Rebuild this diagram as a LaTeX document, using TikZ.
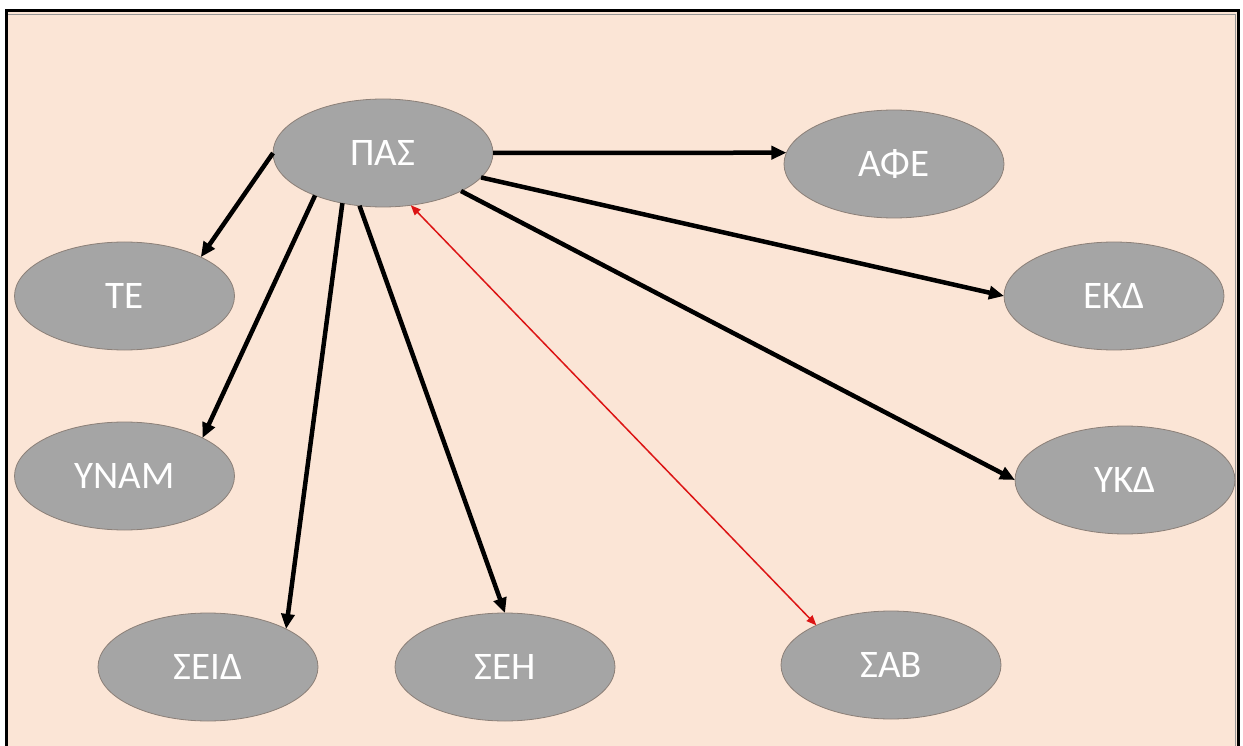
\documentclass[tikz,border=0pt]{standalone}
\usepackage{fontspec}
\setmainfont{Carlito}
\usetikzlibrary{arrows.meta,shapes.geometric}
\definecolor{peach}{HTML}{FBE5D6}
\definecolor{ellfill}{HTML}{A5A5A5}
\definecolor{elldraw}{RGB}{140,128,120}
\definecolor{framegray}{RGB}{150,150,150}
\definecolor{linkred}{RGB}{220,20,20}
\tikzset{
  oval/.style={ellipse, fill=ellfill, draw=elldraw, line width=0.8pt,
    minimum width=220pt, minimum height=108pt, inner sep=0pt, outer sep=0pt,
    text=white, font=\fontsize{39}{45}\selectfont},
  link/.style={line width=4.5pt, -{Triangle[length=15pt,width=13pt]}},
  redlink/.style={line width=1.5pt, draw=linkred,
    {Triangle[length=10pt,width=8pt]}-{Triangle[length=10pt,width=8pt]}}
}
\begin{document}
\begin{tikzpicture}[x=1pt,y=-1pt]
\useasboundingbox (0,0) rectangle (1243,746);
\fill[white] (0,0) rectangle (1243,746);
\fill[peach] (7,12) rectangle (1238,746);
\draw[framegray, line width=1.5pt] (8,14.5) -- (1235.5,14.5) -- (1235.5,746);
\draw[black, line width=3.5pt] (6.5,746) -- (6.5,10.3) -- (1238.5,10.3) -- (1238.5,746);

\node[oval] (pas) at (383,153) {ΠΑΣ};
\node[oval] (afe) at (894,164) {ΑΦΕ};
\node[oval] (te) at (124.5,296) {ΤΕ};
\node[oval] (ekd) at (1114,296) {ΕΚΔ};
\node[oval] (ynam) at (124.5,476) {ΥΝΑΜ};
\node[oval] (ykd) at (1125,480) {ΥΚΔ};
\node[oval] (seid) at (208,667) {ΣΕΙΔ};
\node[oval] (seh) at (505,667) {ΣΕΗ};
\node[oval] (sab) at (891,665) {ΣΑΒ};

\draw[link] (pas.0) -- (afe.174);
\draw[link] (pas.180) -- (te.27.4);
\draw[link] (pas.212.4) -- (ynam.26.3);
\draw[link] (pas.231.5) -- (seid.26.9);
\draw[link] (pas.246.9) -- (seh.90);
\draw[link] (pas.346) -- (ekd.180);
\draw[link] (pas.334.3) -- (ykd.180);
\draw[redlink] (pas.298.2) -- (sab.152.9);
\end{tikzpicture}
\end{document}
